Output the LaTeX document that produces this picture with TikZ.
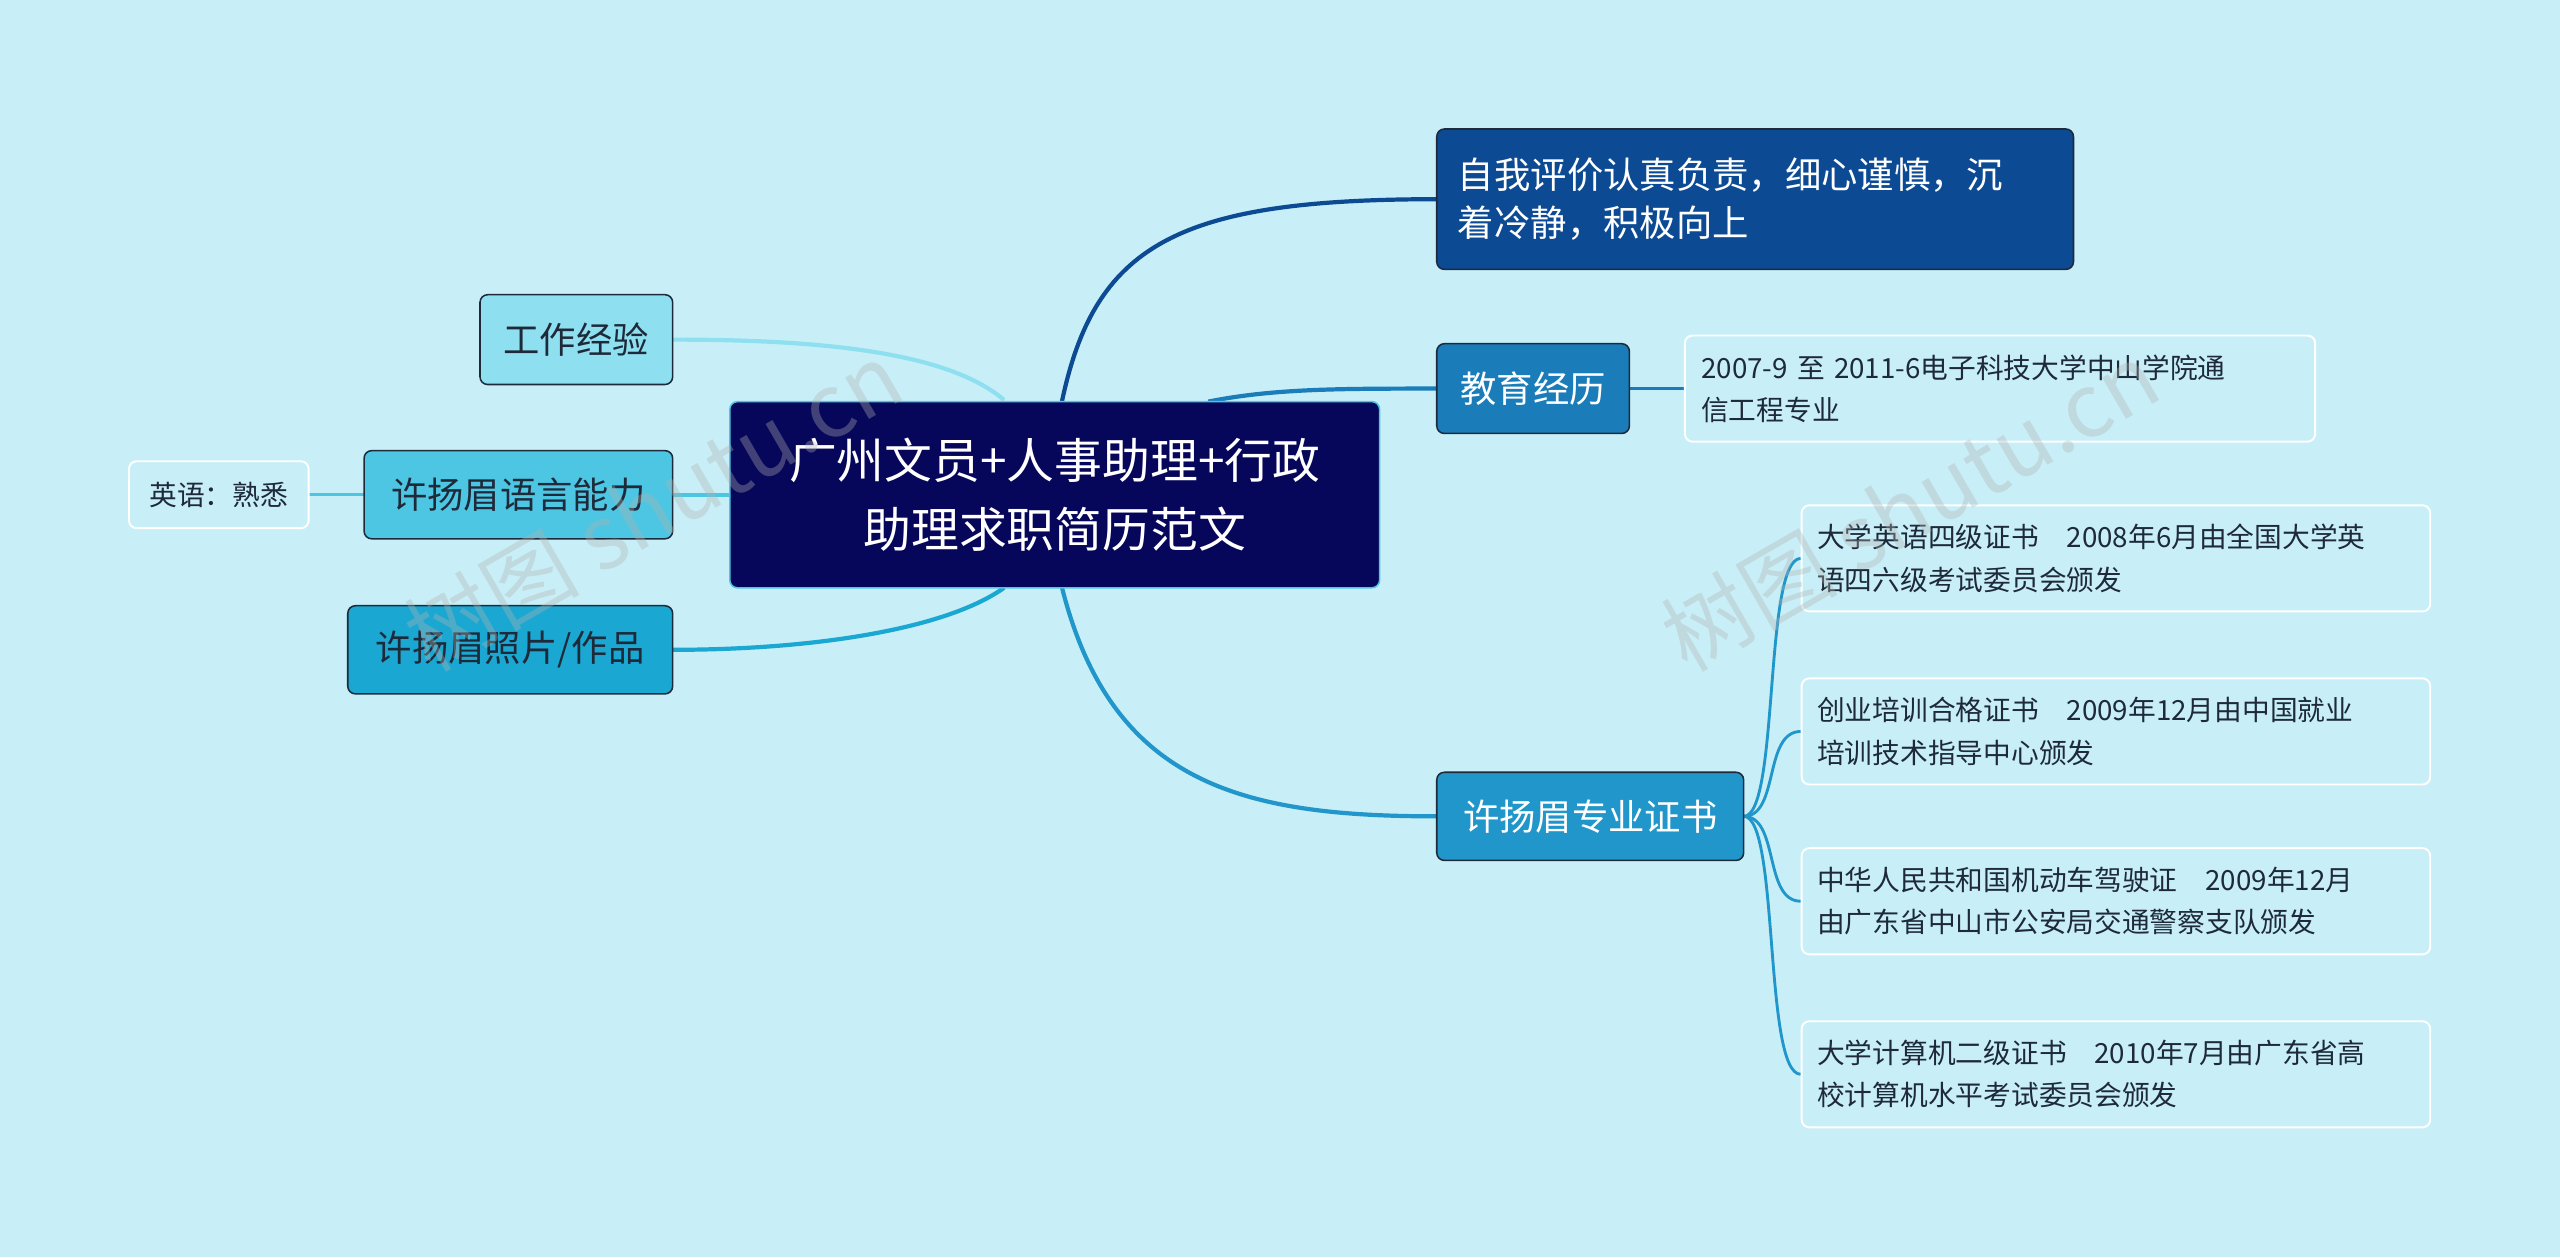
\documentclass[tikz,border=0pt]{standalone}
\usepackage{fontspec}
\setmainfont{Noto Sans CJK SC}
\definecolor{bg}{HTML}{C8EFF7}
\definecolor{navy}{HTML}{06065A}
\definecolor{dblue}{HTML}{0D4A94}
\definecolor{mblue}{HTML}{1A7DBA}
\definecolor{cblue}{HTML}{2196CA}
\definecolor{lcyan}{HTML}{8EE0F0}
\definecolor{ccyan}{HTML}{4CC6E3}
\definecolor{pcyan}{HTML}{1AA8D2}
\definecolor{ink}{HTML}{1E2A3A}
\tikzset{
 box/.style={draw=ink,line width=0.8pt,rounded corners=4pt,inner sep=0pt,font=\fontsize{19}{25}\selectfont},
 leaf/.style={draw=white,line width=1pt,rounded corners=4pt,inner sep=0pt,text=ink,font=\fontsize{14.5}{22}\selectfont,align=left,text width=#1},
 conn/.style={line width=2.2pt},
 wm/.style={text=gray!60,opacity=0.35,font=\fontsize{46}{46}\selectfont,rotate=30}
}
\begin{document}
\begin{tikzpicture}[x=0.03cm,y=-0.03cm]
\fill[bg] (0,0) rectangle (1568,770);
\useasboundingbox (0,0) rectangle (1568,770);
% connectors
\draw[conn,dblue] (650,248) .. controls (670,150) and (720,122) .. (880,122);
\draw[conn,mblue] (740,246) .. controls (780,238) and (820,238) .. (880,238);
\draw[conn,cblue] (650,358) .. controls (680,480) and (760,500) .. (880,500);
\draw[conn,lcyan] (615,245) .. controls (580,215) and (500,208) .. (412,208);
\draw[conn,ccyan] (447,303) -- (412,303);
\draw[conn,pcyan] (615,360) .. controls (580,385) and (500,398) .. (412,398);
\draw[line width=1.5pt,ccyan] (223,303) -- (189,303);
\draw[line width=1.5pt,mblue] (998,238) -- (1032,238);
\foreach \y in {342,448,552,658}
 \draw[line width=1.5pt,cblue] (1068,500) .. controls (1090,500) and (1080,\y) .. (1103,\y);
% nodes
\node[box,fill=navy,draw=ccyan,text=white,minimum width=398*0.03cm,minimum height=114*0.03cm,align=center,font=\fontsize{25}{36}\selectfont] (c) at (646,303) {广州文员+人事助理+行政\\助理求职简历范文};
\node[box,fill=dblue,text=white,minimum width=390*0.03cm,minimum height=86*0.03cm,text width=364*0.03cm,align=left] (a) at (1075,122) {自我评价认真负责，细心谨慎，沉\\着冷静，积极向上};
\node[box,fill=mblue,text=white,minimum width=118*0.03cm,minimum height=55*0.03cm] (b) at (939,238) {教育经历};
\node[leaf=366*0.03cm,minimum width=386*0.03cm,minimum height=65*0.03cm] (b1) at (1225,238) {2007-9 至 2011-6电子科技大学中山学院通\\信工程专业};
\node[box,fill=cblue,text=white,minimum width=188*0.03cm,minimum height=54*0.03cm] (d) at (974,500) {许扬眉专业证书};
\node[leaf=366*0.03cm,minimum width=385*0.03cm,minimum height=65*0.03cm] (d1) at (1296,342) {大学英语四级证书\quad 2008年6月由全国大学英\\语四六级考试委员会颁发};
\node[leaf=366*0.03cm,minimum width=385*0.03cm,minimum height=65*0.03cm] (d2) at (1296,448) {创业培训合格证书\quad 2009年12月由中国就业\\培训技术指导中心颁发};
\node[leaf=366*0.03cm,minimum width=385*0.03cm,minimum height=65*0.03cm] (d3) at (1296,552) {中华人民共和国机动车驾驶证\quad 2009年12月\\由广东省中山市公安局交通警察支队颁发};
\node[leaf=366*0.03cm,minimum width=385*0.03cm,minimum height=65*0.03cm] (d4) at (1296,658) {大学计算机二级证书\quad 2010年7月由广东省高\\校计算机水平考试委员会颁发};
\node[box,fill=lcyan,text=ink,minimum width=118*0.03cm,minimum height=55*0.03cm] (e) at (353,208) {工作经验};
\node[box,fill=ccyan,text=ink,minimum width=189*0.03cm,minimum height=54*0.03cm] (f) at (317.5,303) {许扬眉语言能力};
\node[leaf=90*0.03cm,align=center,minimum width=110*0.03cm,minimum height=41*0.03cm] (f1) at (134,303) {英语：熟悉};
\node[box,fill=pcyan,text=ink,minimum width=199*0.03cm,minimum height=54*0.03cm] (g) at (312.5,398) {许扬眉照片/作品};
% watermarks
\node[wm] at (400,310) {树图 shutu.cn};
\node[wm] at (1170,310) {树图 shutu.cn};
\end{tikzpicture}
\end{document}
